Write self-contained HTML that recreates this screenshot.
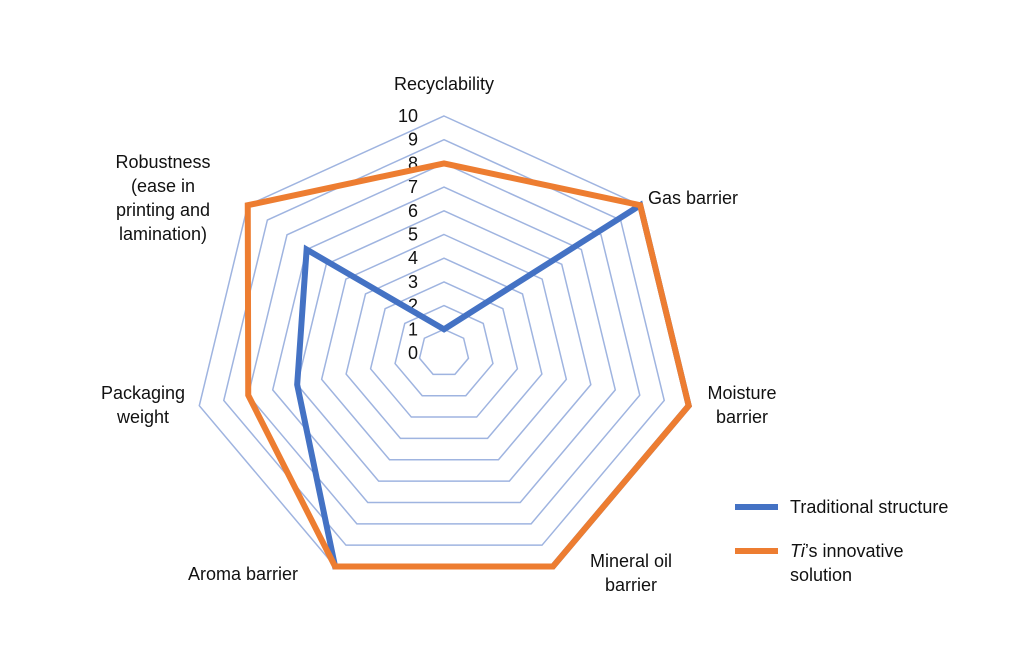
<!DOCTYPE html>
<html><head><meta charset="utf-8"><style>
html,body{margin:0;padding:0;background:#fff;}
svg{display:block;font-family:"Liberation Sans",sans-serif;}
</style></head><body>
<svg id="chart" width="1024" height="656" viewBox="0 0 1024 656">
<g id="grid"></g>
<g id="ticks"></g>
<g id="series"></g>
<g id="cats" font-size="18" fill="#111"></g>
<g>
  <line x1="735" y1="507" x2="778" y2="507" stroke="#4472c4" stroke-width="6"/>
  <text x="790" y="513" font-size="18" fill="#111">Traditional structure</text>
  <line x1="735" y1="551" x2="778" y2="551" stroke="#ed7d31" stroke-width="6"/>
  <text x="790" y="557" font-size="18" fill="#111"><tspan font-style="italic">Ti</tspan>’s innovative</text>
  <text x="790" y="581" font-size="18" fill="#111">solution</text>
</g>
</svg>
<script>
const categories = ["Recyclability","Gas barrier","Moisture barrier","Mineral oil barrier","Aroma barrier","Packaging weight","Robustness (ease in printing and lamination)"];
const traditional = [1,10,10,10,10,6,7];
const innovative = [8,10,10,10,10,8,10];
const tickLabels = ["0","1","2","3","4","5","6","7","8","9","10"];
const maxVal = 10;

const NS="http://www.w3.org/2000/svg";
const cx=444, cy=353, RX=251, RY=237;
const n=categories.length;
function pt(i,v){const a=2*Math.PI*i/n;return [cx+Math.sin(a)*RX*v/maxVal, cy-Math.cos(a)*RY*v/maxVal];}
function mk(tag,attrs,parent){const e=document.createElementNS(NS,tag);for(const k in attrs)e.setAttribute(k,attrs[k]);parent.appendChild(e);return e;}

const grid=document.getElementById('grid');
for(let k=1;k<tickLabels.length;k++){
  const v=+tickLabels[k];
  const pts=categories.map((c,i)=>pt(i,v).join(',')).join(' ');
  const p=mk('polygon',{points:pts,fill:'none',stroke:'#9fb4e0','stroke-width':1.5},grid);
  
  
}
const ticks=document.getElementById('ticks');
tickLabels.forEach(t=>{
  const p=pt(0,+t);
  const e=mk('text',{x:418,y:p[1]+6,'text-anchor':'end','font-size':18,fill:'#111'},ticks);
  e.textContent=t;
  
  
});
const ser=document.getElementById('series');
[[traditional,'#4472c4','series-traditional'],[innovative,'#ed7d31','series-innovative']].forEach(([vals,col,name])=>{
  const pts=vals.map((v,i)=>pt(i,v).join(',')).join(' ');
  const p=mk('polygon',{points:pts,fill:'none',stroke:col,'stroke-width':6,'stroke-linejoin':'miter'},ser);
  
  
});
const labelLines=[["Recyclability"],["Gas barrier"],["Moisture","barrier"],["Mineral oil","barrier"],["Aroma barrier"],["Packaging","weight"],["Robustness","(ease in","printing and","lamination)"]];
const labelPos=[[444,90,'middle'],[648,204,'start'],[742,399,'middle'],[631,567,'middle'],[243,580,'middle'],[143,399,'middle'],[163,168,'middle']];
const cats=document.getElementById('cats');
labelLines.forEach((lines,i)=>{
  const [x,y,anc]=labelPos[i];
  const t=mk('text',{x:x,y:y,'text-anchor':anc},cats);
  
  
  lines.forEach((l,j)=>{const s=mk('tspan',{x:x,y:y+j*24},t);s.textContent=l;});
});
</script>
</body></html>
